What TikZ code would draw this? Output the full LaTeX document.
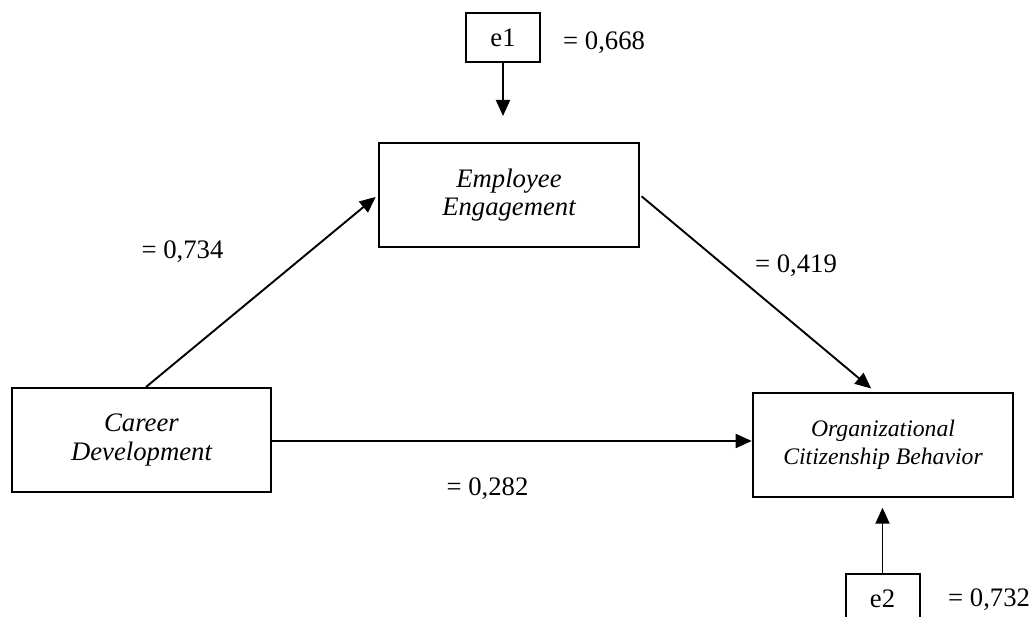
\documentclass[tikz,border=0pt]{standalone}
\usepackage{fontspec}
\setmainfont{Liberation Serif}
\usetikzlibrary{arrows.meta}
\begin{document}
\begin{tikzpicture}[x=1pt,y=-1pt,
  box/.style={draw,line width=2pt,inner sep=0pt,align=center,
    font=\fontsize{26.7}{28.5}\selectfont\itshape},
  ebox/.style={draw,line width=2pt,inner sep=0pt,minimum width=74pt,minimum height=49pt,
    font=\fontsize{26.7}{28.5}\selectfont},
  lbl/.style={inner sep=0pt,font=\fontsize{26.7}{28.5}\selectfont},
  arr/.style={line width=1.9pt,-{Triangle[length=16pt,width=14pt]}}]
\clip (0,0) rectangle (1031,617);
\fill[white] (0,0) rectangle (1031,617);
\node[ebox] (e1) at (503,37.5) {e1};
\node[box,minimum width=260pt,minimum height=104pt] (EE) at (509,195) {Employee\\Engagement};
\node[box,minimum width=259pt,minimum height=104pt] (CD) at (141.5,440) {Career\\Development};
\node[box,minimum width=260.6pt,minimum height=104pt,
  font=\fontsize{23.7}{28}\selectfont\itshape] (OCB) at (883,444.7) {Organizational\\Citizenship Behavior};
\node[ebox] (e2) at (882.5,598.5) {e2};
\node[lbl,anchor=west] (l1) at (563,43) {= 0,668};
\node[lbl] (l2) at (182.5,252) {= 0,734};
\node[lbl] (l3) at (796,266) {= 0,419};
\node[lbl] (l4) at (487.5,489) {= 0,282};
\node[lbl,anchor=west] (l5) at (948,600) {= 0,732};
\draw[arr,shorten >=26pt] (e1.south) -- (e1.south |- EE.north);
\draw[arr,shorten >=3pt] ([xshift=4.5pt]CD.north) -- (EE.west);
\draw[arr,shorten <=2pt,shorten >=5pt] (EE.east) -- ([xshift=-8pt]OCB.north);
\draw[arr] ([yshift=-1pt]CD.east) -- ([yshift=-1pt]CD.east -| OCB.west);
\draw[arr,shorten >=10pt] (e2.north) -- (e2.north |- OCB.south);
\end{tikzpicture}
\end{document}
